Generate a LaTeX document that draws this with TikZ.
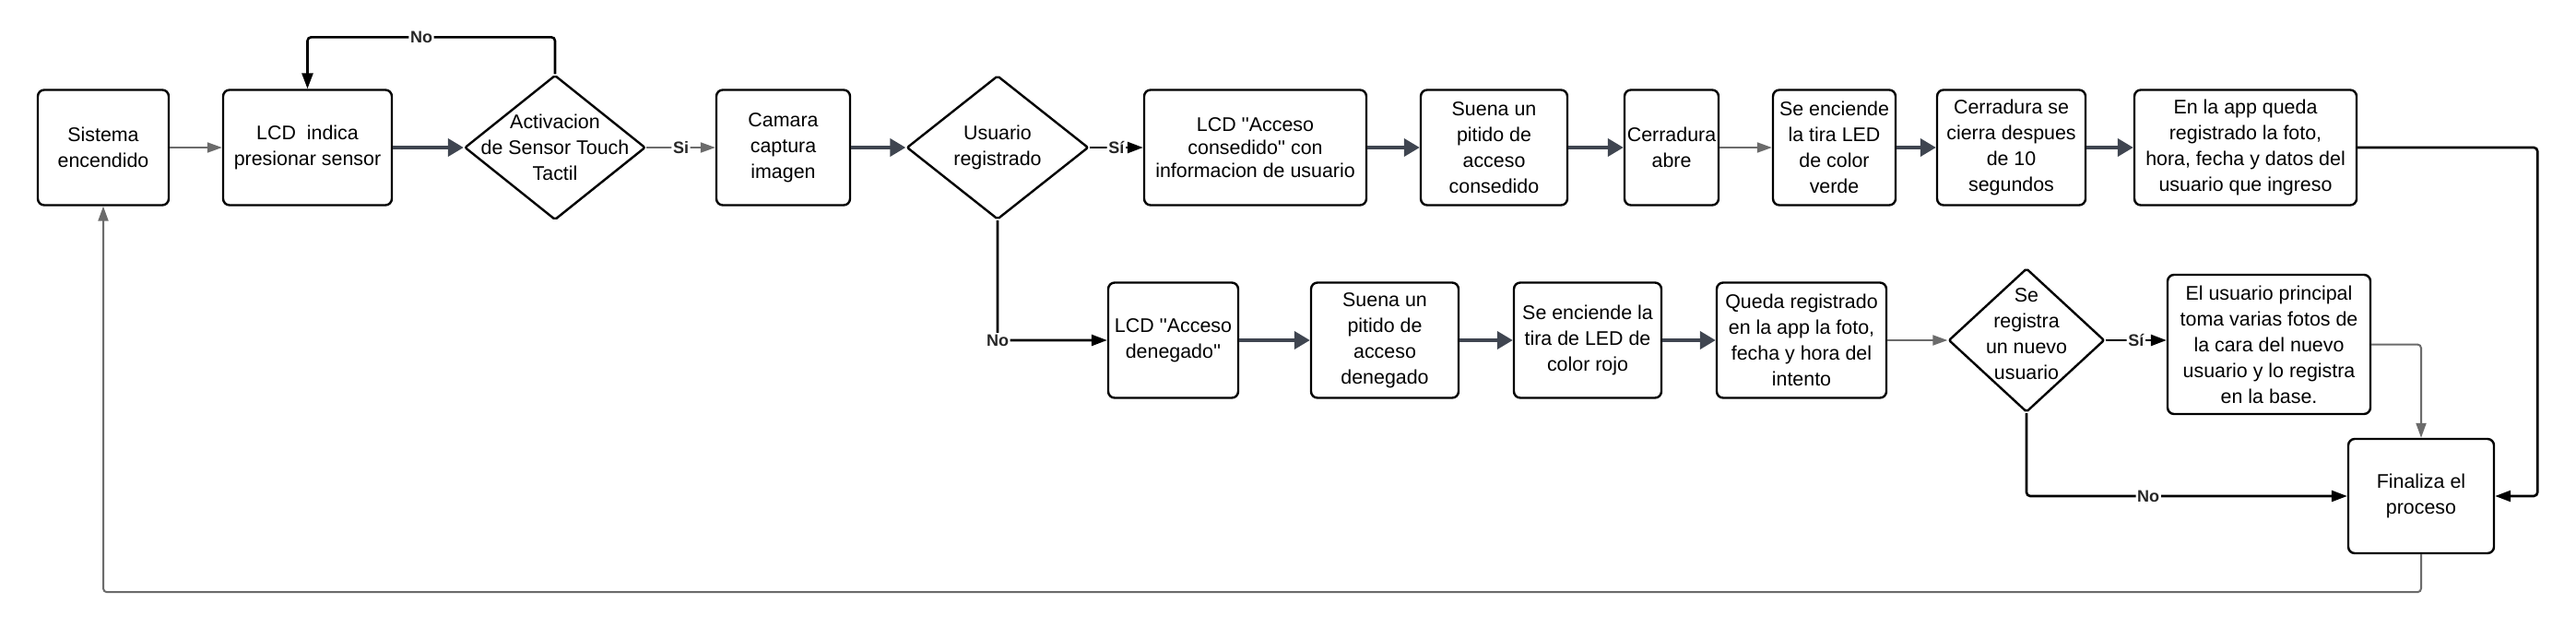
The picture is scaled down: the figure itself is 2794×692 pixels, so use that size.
\documentclass[tikz,border=0pt]{standalone}
\usepackage{fontspec}
\setmainfont{Liberation Sans}
\usetikzlibrary{shapes.geometric,arrows.meta}

\newcommand{\qq}{\textquotesingle\textquotesingle}

\begin{document}
\begin{tikzpicture}[x=0.5pt,y=0.5pt,font=\fontsize{10.7}{14}\selectfont]
  % Colors
    \colorlet{thingray}{black!58}
    \definecolor{slate}{HTML}{3F4550}

  % Styles
    \tikzstyle{box}=[draw, rounded corners=3.5pt, line width=1.2pt, align=center, inner xsep=1pt, minimum height=62.5pt]
    \tikzstyle{dec}=[draw, diamond, line width=1.2pt, inner sep=0pt, rounded corners=1pt]
    \tikzstyle{dectext}=[align=center]
    \tikzstyle{gry}=[draw=thingray, line width=1pt, rounded corners=2pt, -{Triangle[length=8pt,width=5.5pt]}, thingray]
    \tikzstyle{drk}=[draw=slate, line width=2pt, -{Triangle[length=8.5pt,width=9.5pt]}, slate]
    \tikzstyle{blk}=[draw=black, line width=1.3pt, rounded corners=2pt, -{Triangle[length=8.5pt,width=6pt]}, black]
    \tikzstyle{lab}=[fill=white, inner sep=0.8pt, font=\fontsize{9}{10}\selectfont\bfseries, text=black!85]

  % The graphic
    \useasboundingbox (0,0) rectangle (2794,-692);

  % top row
    \node[box, minimum width=71pt] (sis) at (112,-160) {Sistema\\encendido};
    \node[box, minimum width=91.5pt] (lcd) at (333.5,-160) {LCD\ \ indica\\presionar sensor};
    \node[dec, minimum width=98pt, minimum height=78.5pt,
      label={[dectext]center:{Activacion\\de Sensor Touch\\Tactil}}] (act) at (602,-160) {};
    \node[box, minimum width=72.5pt] (cam) at (849.5,-160) {Camara\\captura\\imagen};
    \node[dec, minimum width=98.5pt, minimum height=78pt,
      label={[dectext]center:{Usuario\\registrado}}] (usu) at (1082,-160) {};
    \node[box, minimum width=120.5pt, font=\fontsize{10.7}{12.5}\selectfont] (acc) at (1361.5,-160) {LCD \qq Acceso\\consedido\qq\ con\\informacion de usuario};
    \node[box, minimum width=79.5pt] (pit) at (1620.5,-160) {Suena un\\pitido de\\acceso\\consedido};
    \node[box, minimum width=51pt] (cer) at (1813,-160) {Cerradura\\abre};
    \node[box, minimum width=66.5pt] (led) at (1989.5,-160) {Se enciende\\la tira LED\\de color\\verde};
    \node[box, minimum width=80.5pt] (cie) at (2181.5,-160) {Cerradura se\\cierra despues\\de 10\\segundos};
    \node[box, minimum width=120.5pt] (app) at (2435.5,-160) {En la app queda\\registrado la foto,\\hora, fecha y datos del\\usuario que ingreso};

  % bottom row
    \node[box, minimum width=70.5pt] (den) at (1272.5,-369) {LCD \qq Acceso\\denegado\qq};
    \node[box, minimum width=80pt] (pid) at (1502,-369) {Suena un\\pitido de\\acceso\\denegado};
    \node[box, minimum width=80pt] (roj) at (1722,-369) {Se enciende la\\tira de LED de\\color rojo};
    \node[box, minimum width=92pt] (que) at (1954,-369) {Queda registrado\\en la app la foto,\\fecha y hora del\\intento};
    \node[dec, minimum width=84.5pt, minimum height=78pt,
      label={[dectext,yshift=3.5pt]center:{Se\\registra\\un nuevo\\usuario}}] (reg) at (2198,-369) {};
    \node[box, minimum width=110pt, minimum height=75.5pt] (usr) at (2461,-373.5) {El usuario principal\\toma varias fotos de\\la cara del nuevo\\usuario y lo registra\\en la base.};
    \node[box, minimum width=79pt, minimum height=62pt] (fin) at (2626,-538) {Finaliza el\\proceso};

  % connectors, top row
    \draw[gry] (sis) -- (lcd);
    \draw[drk] (lcd) -- (act);
    \draw[blk] (act.north) -- ++(0,40) -| node[lab,pos=0.27]{No} (lcd.north);
    \draw[gry] (act) -- node[lab]{Si} (cam);
    \draw[drk] (cam) -- (usu);
    \draw[blk] (usu) -- node[lab]{Sí} (acc);
    \draw[drk] (acc) -- (pit);
    \draw[drk] (pit) -- (cer);
    \draw[gry] (cer) -- (led);
    \draw[drk] (led) -- (cie);
    \draw[drk] (cie) -- (app);
    \draw[blk] (app.east) -- ++(195,0) |- (fin.east);

  % connectors, bottom row
    \draw[blk] (usu) |- node[lab]{No} (den);
    \draw[drk] (den) -- (pid);
    \draw[drk] (pid) -- (roj);
    \draw[drk] (roj) -- (que);
    \draw[gry] (que) -- (reg);
    \draw[blk] (reg.east) -- node[lab]{Sí} (reg.east -| usr.west);
    \draw[blk] (reg) |- node[lab,pos=0.69]{No} (fin);
    \draw[gry] (usr) -| (fin);
    \draw[gry] (fin.south) -- ++(0,-41) -| (sis.south);
\end{tikzpicture}
\end{document}
